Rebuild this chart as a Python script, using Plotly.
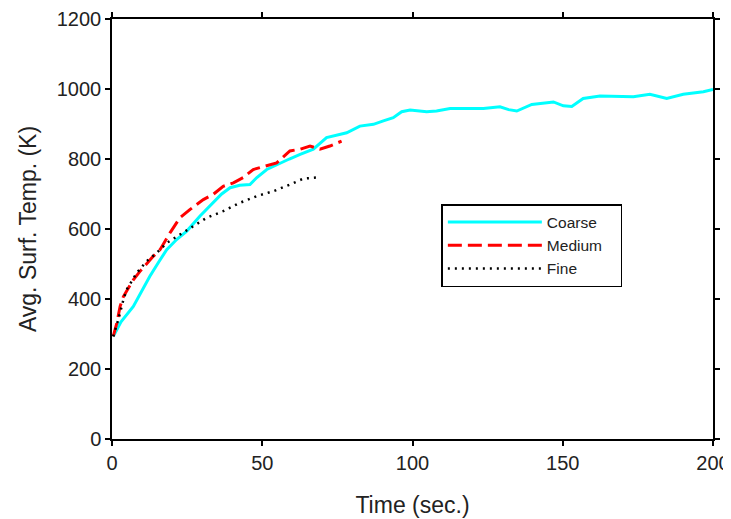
import plotly.graph_objects as go

coarse_t = [0.4, 3.0, 7.1, 10.0, 12.6, 15.5, 18.2, 21.5, 24.9, 29.3, 33.7, 36.5, 39.3, 42.5, 45.9, 48.2,
            51.5, 55.9, 59.0, 62.6, 67.0, 71.4, 75.0, 78.1, 82.5, 87.0, 90.3, 93.6, 96.4, 99.2,
            104.7, 108.0, 112.5, 118.0, 123.6, 129.1, 132.0, 134.7, 139.7, 146.9, 150.2, 153.0,
            156.8, 162.4, 167.9, 173.5, 179.0, 184.6, 190.1, 196.8, 200.0]
coarse_T = [293, 335, 379, 425, 465, 505, 541, 570, 594, 637, 675, 700, 718, 725, 727, 747,
            770, 789, 800, 813, 828, 861, 868, 875, 894, 899, 909, 918, 935, 940,
            935, 937, 944, 944, 944, 949, 941, 937, 956, 963, 952, 950,
            973, 980, 978, 978, 985, 973, 985, 992, 999]

medium_t = [0.4, 1.6, 2.7, 3.8, 7.1, 9.3, 13.7, 16.0, 19.3, 22.6, 26.0, 30.4, 33.7, 37.0, 40.4,
            43.7, 47.0, 51.5, 54.8, 59.2, 62.6, 65.9, 69.2, 72.5, 76.4]
medium_T = [293, 331, 379, 407, 455, 479, 522, 541, 589, 632, 656, 684, 699, 722, 732,
            747, 770, 780, 789, 823, 828, 837, 828, 837, 851]

fine_t = [0.4, 2.1, 3.8, 4.9, 8.2, 11.5, 14.9, 18.2, 22.6, 27.1, 31.5, 37.0, 42.6, 48.2,
          53.7, 59.2, 63.7, 68.1]
fine_T = [293, 341, 398, 427, 474, 508, 532, 560, 584, 608, 632, 651, 675, 694,
          708, 727, 744, 747]

x_ticks = [0, 50, 100, 150, 200]
y_ticks = [0, 200, 400, 600, 800, 1000, 1200]
series_names = ["Coarse", "Medium", "Fine"]

FONT = "Liberation Sans, Arial, sans-serif"
PAD = "\u00a0\u00a0\u00a0"

fig = go.Figure()
fig.add_trace(go.Scatter(x=coarse_t, y=coarse_T, mode="lines", name=series_names[0] + PAD,
                         line=dict(color="#00FFFF", width=3)))
fig.add_trace(go.Scatter(x=medium_t, y=medium_T, mode="lines", name=series_names[1] + PAD,
                         line=dict(color="#FF0000", width=3, dash="14px,6px")))
fig.add_trace(go.Scatter(x=fine_t, y=fine_T, mode="lines", name=series_names[2] + PAD,
                         line=dict(color="#000000", width=2.5, dash="2px,5px")))

axis_common = dict(showline=True, linecolor="black", linewidth=1.5, mirror="allticks",
                   ticks="outside", ticklen=5, tickcolor="black", tickwidth=1.5,
                   showgrid=False, zeroline=False, automargin=False,
                   tickfont=dict(family=FONT, size=20, color="#222222"),
                   title_font=dict(family=FONT, size=23, color="#222222"))

fig.update_xaxes(range=[0, 200], tickvals=x_ticks, title_text="Time (sec.)",
                 title_standoff=24, **axis_common)
fig.update_yaxes(range=[0, 1200], tickvals=y_ticks, title_text="Avg. Surf. Temp. (K)",
                 title_standoff=14, **axis_common)

fig.update_layout(
    width=723, height=511,
    margin=dict(l=104, r=18, t=11, b=80),
    plot_bgcolor="white", paper_bgcolor="white",
    showlegend=True,
    legend=dict(x=0.548, y=0.5595, xanchor="left", yanchor="top",
                bordercolor="black", borderwidth=1.5, bgcolor="white",
                font=dict(family=FONT, size=15.5, color="#222222"),
                itemwidth=94, tracegroupgap=0),
)

fig.write_html("out.html")
